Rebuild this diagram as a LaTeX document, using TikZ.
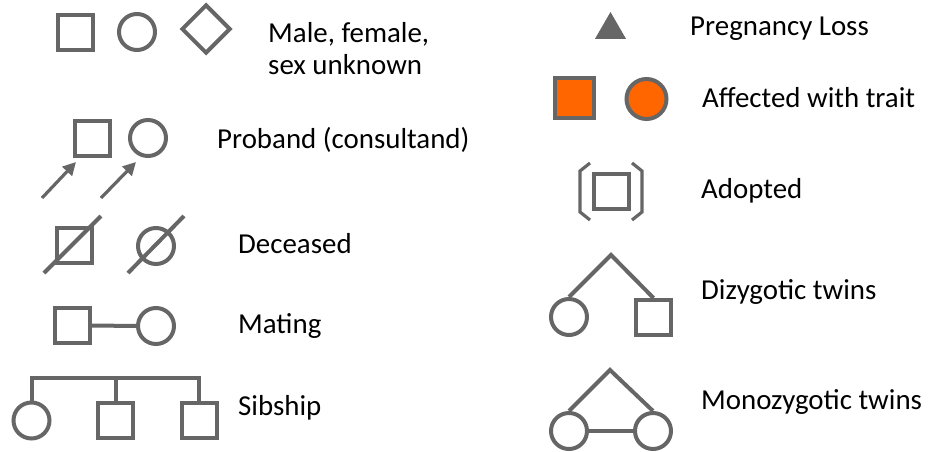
\documentclass[tikz,border=0pt]{standalone}
\usepackage{fontspec}
\setmainfont{Carlito}
\usetikzlibrary{shapes.geometric,arrows.meta}
\definecolor{sym}{HTML}{666666}
\definecolor{aff}{HTML}{FF6600}
\begin{document}
\begin{tikzpicture}[x=1pt,y=-1pt,
  conn/.style={line width=4pt, draw=sym},
  sq/.style={rectangle, draw=sym, line width=4pt, minimum size=35pt, inner sep=0pt},
  ci/.style={circle, draw=sym, line width=4pt, minimum size=36pt, inner sep=0pt},
  lab/.style={anchor=base west, inner sep=0pt, text=black, font=\fontsize{28.9}{32}\selectfont},
  parr/.style={line width=3.2pt, draw=sym, fill=sym, -{Triangle[length=13pt,width=13pt]}}]
\useasboundingbox (0,0) rectangle (935,452);
% row 1: male female unknown
\node[sq] (m) at (75,32.5) {};
\node[ci] (f) at (137,32) {};
\node[diamond, draw=sym, line width=4pt, minimum size=49pt, inner sep=0pt] (u) at (206,29) {};
\node[lab] (t1a) at (268,43) {Male, female,};
\node[lab] (t1b) at (268,75) {sex unknown};
% row 2: proband
\node[sq] (pb1) at (92.5,138.5) {};
\node[ci] (pb2) at (148,138) {};
\coordinate (a1s) at (42,198); \coordinate (a1e) at (76,162);
\coordinate (a2s) at (101,198); \coordinate (a2e) at (136,162);
\draw[parr] (a1s) -- (a1e);
\draw[parr] (a2s) -- (a2e);
\node[lab] (t2) at (217,148) {Proband (consultand)};
% row 3: deceased
\node[sq] (d1) at (74,245) {};
\node[ci] (d2) at (156,246) {};
\coordinate (d1a) at (44,273); \coordinate (d1b) at (101,216);
\coordinate (d2a) at (128,273); \coordinate (d2b) at (184,216);
\draw[conn] (d1a) -- (d1b);
\draw[conn] (d2a) -- (d2b);
\node[lab] (t3) at (238,253) {Deceased};
% row 4: mating
\node[sq] (mt1) at (72.5,325.5) {};
\node[ci] (mt2) at (156,326) {};
\draw[conn] (mt1) -- (mt2);
\node[lab] (t4) at (238,333) {Mating};
% row 5: sibship
\node[ci] (s1) at (31.5,420.5) {};
\node[sq] (s2) at (115.5,420.5) {};
\node[sq] (s3) at (199,420.5) {};
\coordinate (bar) at (0,378);
\draw[conn] (s1.north) -- (s1.north |- bar) -- (s3.north |- bar) -- (s3.north);
\draw[conn] (s2.north) -- (s2.north |- bar);
\node[lab] (t5) at (238,415) {Sibship};
% right: pregnancy loss
\node[regular polygon, regular polygon sides=3, fill=sym, draw=none, minimum size=36pt, inner sep=0pt] (pl) at (610.5,30) {};
\node[lab] (t6) at (690,36) {Pregnancy Loss};
% affected
\node[sq, fill=aff, minimum size=39pt] (af1) at (574.5,98) {};
\node[ci, fill=aff, minimum size=40pt] (af2) at (646.5,99) {};
\node[lab] (t7) at (702,107) {Affected with trait};
% adopted
\node[sq] (ad) at (611,191) {};
\draw[conn, line width=3.2pt] ([shift={(-21,-28)}]ad.center) -- ++(-10,8) -- ++(0,41) -- ++(10,8);
\draw[conn, line width=3.2pt] ([shift={(21,-28)}]ad.center) -- ++(10,8) -- ++(0,41) -- ++(-10,8);
\node[lab] (t8) at (701,198) {Adopted};
% dizygotic twins
\node[ci] (dz1) at (569,317) {};
\node[sq] (dz2) at (653.5,317.5) {};
\coordinate (dza) at (611,255);
\draw[conn] (dz1.north) -- (dza) -- (dz2.north);
\node[lab] (t9) at (701,299) {Dizygotic twins};
% monozygotic twins
\node[ci] (mz1) at (569,431) {};
\node[ci] (mz2) at (653,431) {};
\coordinate (mza) at (610,370);
\draw[conn] (mz1.north) -- (mza) -- (mz2.north);
\draw[conn] (mz1) -- (mz2);
\node[lab] (t10) at (701,409) {Monozygotic twins};
\end{tikzpicture}
\end{document}
